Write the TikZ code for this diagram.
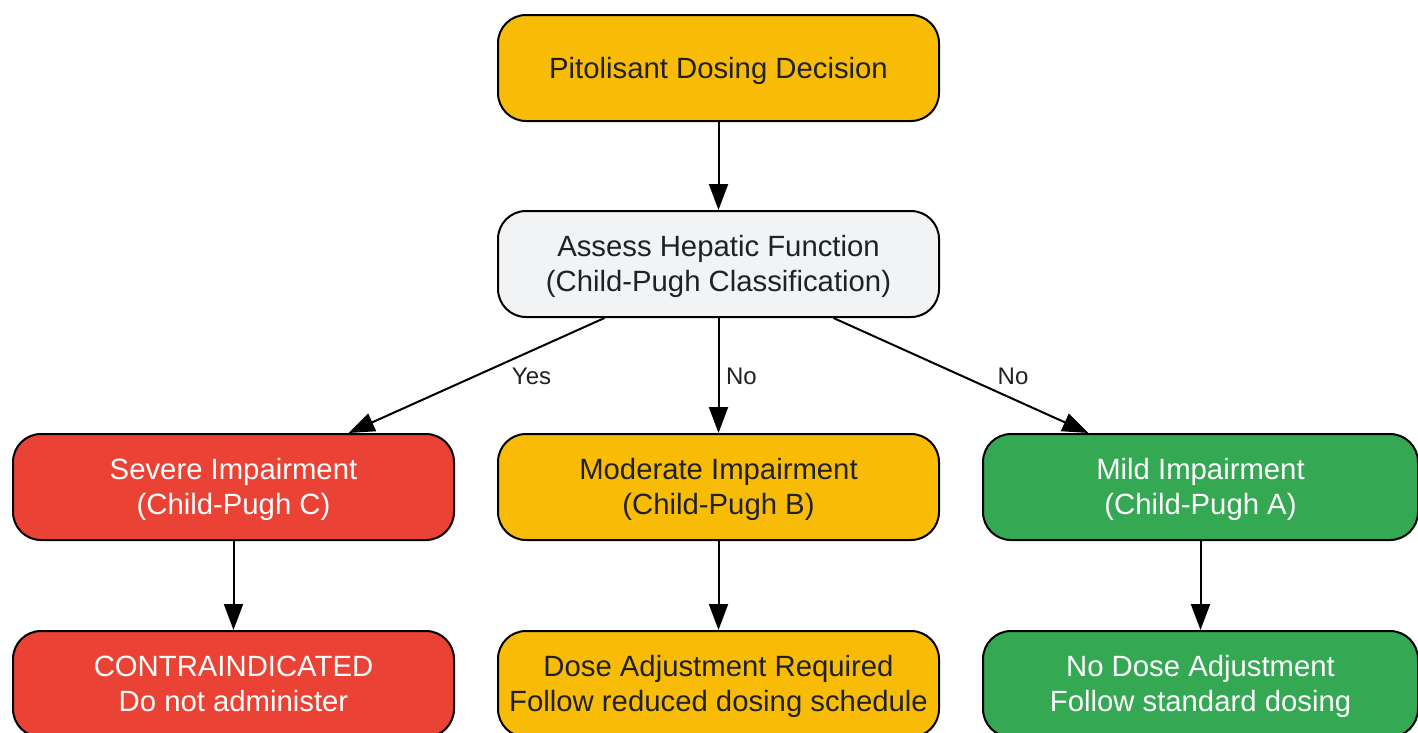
\documentclass[tikz,border=0pt]{standalone}
\usepackage{fontspec}
\setmainfont{Liberation Sans}
\usetikzlibrary{arrows.meta,calc}
\definecolor{cyellow}{HTML}{F9BC06}
\definecolor{cred}{HTML}{EA4335}
\definecolor{cgreen}{HTML}{34A853}
\definecolor{cgray}{HTML}{F1F3F4}
\definecolor{ctext}{HTML}{202124}
\newcommand{\boxtext}[1]{\raisebox{-3pt}[\height][\depth]{\begin{tabular}{@{}c@{}}#1\end{tabular}}}
\begin{document}
\begin{tikzpicture}[x=1pt,y=-1pt,
  box/.style={draw=black, line width=2pt, rounded corners=28pt, minimum width=441pt, minimum height=106pt,
    inner sep=0pt, font=\fontsize{29.3}{35}\selectfont, text=ctext},
  ybox/.style={box, fill=cyellow},
  gbox/.style={box, fill=cgray},
  rbox/.style={box, fill=cred, text=white},
  grbox/.style={box, fill=cgreen, text=white},
  conn/.style={line width=2pt, -{Triangle[length=26pt,width=19pt]}},
  lbl/.style={font=\fontsize{24}{26}\selectfont, text=ctext, inner sep=0pt}]
\useasboundingbox (0,0) rectangle (1418,732);
\clip (0,0) rectangle (1418,732);
\fill[white] (0,0) rectangle (1418,732);
\node[ybox] (top) at (718.5,68) {\boxtext{Pitolisant Dosing Decision}};
\node[gbox] (assess) at (718.5,264) {\boxtext{Assess Hepatic Function\\(Child-Pugh Classification)}};
\node[rbox] (severe) at (233.5,487) {\boxtext{Severe Impairment\\(Child-Pugh C)}};
\node[ybox] (moderate) at (718.5,487) {\boxtext{Moderate Impairment\\(Child-Pugh B)}};
\node[grbox, minimum width=435pt] (mild) at (1200.5,487) {\boxtext{Mild Impairment\\(Child-Pugh A)}};
\node[rbox] (contra) at (233.5,684) {\boxtext{CONTRAINDICATED\\Do not administer}};
\node[ybox] (reduced) at (718.5,684) {\boxtext{Dose Adjustment Required\\Follow reduced dosing schedule}};
\node[grbox, minimum width=435pt] (standard) at (1200.5,684) {\boxtext{No Dose Adjustment\\Follow standard dosing}};
\draw[conn] (top) -- (assess);
\draw[conn] ($(assess.south)+(-114,0)$) -- node[lbl, pos=0.5, xshift=55pt, yshift=-1pt] (lyes) {Yes} ($(severe.north)+(115,0)$);
\draw[conn] (assess) -- node[lbl, pos=0.5, xshift=23pt, yshift=-1pt] (lno1) {No} (moderate);
\draw[conn] ($(assess.south)+(115,0)$) -- node[lbl, pos=0.5, xshift=52pt, yshift=-1pt] (lno2) {No} ($(mild.north)+(-112,0)$);
\draw[conn] (severe) -- (contra);
\draw[conn] (moderate) -- (reduced);
\draw[conn] (mild) -- (standard);
\end{tikzpicture}
\end{document}
